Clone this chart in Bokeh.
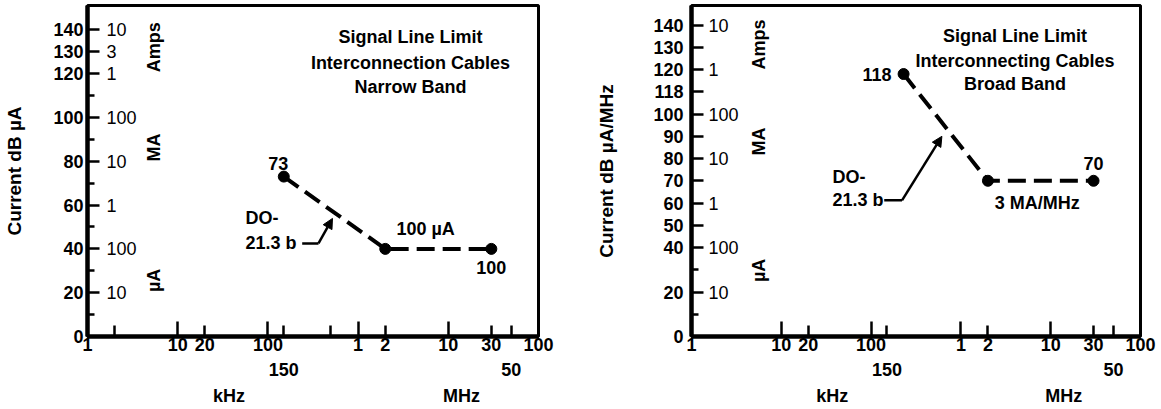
import math
from bokeh.plotting import figure
from bokeh.layouts import row
from bokeh.models import Range1d, FixedTicker, LogAxis, Label, Arrow, NormalHead
from bokeh.core.properties import value
from bokeh.embed import file_html
from bokeh.resources import INLINE

FONT = "Liberation Sans"

# ---------------- data ----------------
nb_freq_hz = [150e3, 2e6, 30e6]
nb_level_db = [73, 40, 40]
bb_freq_hz = [230e3, 2e6, 30e6]
bb_level_db = [118, 70, 70]

x_label_ticks = [1e3, 1e4, 2e4, 1e5, 1e6, 2e6, 1e7, 3e7, 1e8]
x_label_text = ["1", "10", "20", "100", "1", "2", "10", "30", "100"]
x_label2_ticks = [1.5e5, 5e7]
x_label2_text = ["150", "50"]
x_unit_ticks = [3.7e4, 1.4e7]
x_unit_text = ["kHz", "MHz"]
x_tall_ticks = [1e4, 1e5, 1e6, 1e7]
nb_x_short_ticks = [2e3, 2e4, 1.5e5, 5e5, 2e6, 3e7, 5e7]
bb_x_short_ticks = [2e4, 1.5e5, 2e6, 3e7, 5e7]

nb_y_major = [0, 20, 40, 60, 80, 100, 120, 130, 140]
nb_y_minor = [10, 30, 50, 70, 90, 110]
nb_amp_levels = [140, 130, 120, 100, 80, 60, 40, 20]
nb_amp_text = ["10", "3", "1", "100", "10", "1", "100", "10"]

bb_y_major = [0, 20, 40, 50, 60, 70, 80, 90, 100, 110, 120, 130, 140]
bb_y_overrides = {110: "118"}
bb_y_minor = [10, 30]
bb_amp_levels = [140, 120, 100, 80, 60, 40, 20]
bb_amp_text = ["10", "1", "100", "10", "1", "100", "10"]

unit_text = ["Amps", "MA", "µA"]
nb_unit_levels = [132, 86.3, 25.6]
bb_unit_levels = [131.3, 87.7, 29.7]

nb_title = ["Signal Line Limit", "Interconnection Cables", "Narrow Band"]
bb_title = ["Signal Line Limit", "Interconnecting Cables", "Broad Band"]


def txt(x, y, text, align="center", size="18px", style="bold", x_offset=0, y_offset=0, angle=0):
    return Label(x=x, y=y, text=text, text_align=align, text_baseline="middle",
                 text_font=FONT, text_font_size=size, text_font_style=style,
                 text_color="black", x_offset=x_offset, y_offset=y_offset, angle=angle)


def panel(width, b_left, b_right, y_top, freq, level, short_ticks, y_major, y_minor,
          y_over, amp_levels, amp_text, amp_off, unit_levels, unit_off, y_title,
          lab_standoff, title_standoff):
    p = figure(width=width, height=409, x_axis_type="log",
               x_range=Range1d(1e3, 1e8), y_range=Range1d(0, y_top),
               output_backend="svg", toolbar_location=None,
               min_border_left=b_left, min_border_right=b_right,
               min_border_top=5, min_border_bottom=73)
    p.grid.visible = False
    p.outline_line_color = "black"
    p.outline_line_width = 3
    p.background_fill_color = "white"
    p.border_fill_color = "white"

    xa = p.xaxis[0]
    xa.ticker = FixedTicker(ticks=x_tall_ticks, minor_ticks=short_ticks)
    xa.axis_line_width = 4.5
    xa.axis_line_color = "black"
    xa.major_tick_in = 15
    xa.major_tick_out = 0
    xa.minor_tick_in = 11
    xa.minor_tick_out = 0
    xa.major_tick_line_width = 2.5
    xa.minor_tick_line_width = 2.5
    xa.major_tick_line_color = "black"
    xa.minor_tick_line_color = "black"
    xa.major_label_text_font_size = "1px"
    xa.major_label_text_color = None
    xa.major_label_standoff = 0

    for ticks, texts, standoff in [(x_label_ticks, x_label_text, 1),
                                   (x_label2_ticks, x_label2_text, 9),
                                   (x_unit_ticks, x_unit_text, 7)]:
        ax = LogAxis(ticker=FixedTicker(ticks=ticks),
                     major_label_overrides=dict(zip(ticks, texts)),
                     axis_line_color=None, major_tick_line_color=None,
                     minor_tick_line_color=None, major_tick_out=0, major_tick_in=0,
                     minor_tick_out=0, minor_tick_in=0,
                     major_label_standoff=standoff,
                     major_label_text_font=FONT, major_label_text_font_size="18px",
                     major_label_text_font_style="bold", major_label_text_color="black")
        p.add_layout(ax, "below")

    ya = p.yaxis[0]
    ya.ticker = FixedTicker(ticks=y_major, minor_ticks=y_minor)
    if y_over:
        ya.major_label_overrides = y_over
    ya.axis_line_width = 4.5
    ya.axis_line_color = "black"
    ya.major_tick_in = 12
    ya.major_tick_out = 0
    ya.minor_tick_in = 7
    ya.minor_tick_out = 0
    ya.major_tick_line_width = 2.5
    ya.minor_tick_line_width = 2.5
    ya.major_tick_line_color = "black"
    ya.minor_tick_line_color = "black"
    ya.major_label_standoff = lab_standoff
    ya.major_label_text_font = FONT
    ya.major_label_text_font_size = "18px"
    ya.major_label_text_font_style = "bold"
    ya.major_label_text_color = "black"
    ya.axis_label = y_title
    ya.axis_label_standoff = title_standoff
    ya.axis_label_text_font = FONT
    ya.axis_label_text_font_size = "19px"
    ya.axis_label_text_font_style = "bold"
    ya.axis_label_text_color = "black"

    # current-scale labels inside the frame
    p.text(x=[1e3] * len(amp_levels), y=amp_levels, text=amp_text, x_offset=amp_off,
           text_align="left", text_baseline="middle", text_font=value(FONT),
           text_font_size="18px", text_font_style="normal", text_color="black")
    for lvl, t in zip(unit_levels, unit_text):
        p.add_layout(txt(1e3, lvl, t, x_offset=unit_off, angle=math.pi / 2))

    p.line(freq, level, line_width=4, line_dash="18 8", color="black")
    p.scatter(freq, level, size=11, color="black")
    return p


p1 = panel(593, 87, 55, 151.1, nb_freq_hz, nb_level_db, nb_x_short_ticks, nb_y_major,
           nb_y_minor, None, nb_amp_levels, nb_amp_text, 19, nb_unit_levels, 66,
           "Current dB µA", 4, 25)
p2 = panel(568, 95, 21, 148.8, bb_freq_hz, bb_level_db, bb_x_short_ticks, bb_y_major,
           bb_y_minor, bb_y_overrides, bb_amp_levels, bb_amp_text, 17, bb_unit_levels, 67,
           "Current dB µA/MHz", 8, 33)

# titles
for yv, t in zip([136.5, 125, 114], nb_title):
    p1.add_layout(txt(3.8e6, yv, t))
for yv, t in zip([135.3, 123.7, 113.3], bb_title):
    p2.add_layout(txt(4.0e6, yv, t))

# narrow band annotations
p1.add_layout(txt(1.3e5, 79, "73"))
p1.add_layout(txt(5.6e6, 49.3, "100 µA"))
p1.add_layout(txt(3e7, 31.5, "100"))
p1.add_layout(txt(5.65e4, 53.9, "DO-", align="left"))
p1.add_layout(txt(5.65e4, 42.5, "21.3 b", align="left"))
p1.add_layout(Arrow(end=None, x_start=2.4e5, y_start=42.5, x_end=3.64e5, y_end=42.5,
                    line_width=2.5, line_color="black"))
p1.add_layout(Arrow(end=NormalHead(size=10, fill_color="black", line_color="black"),
                    x_start=3.64e5, y_start=42.5, x_end=5.2e5, y_end=53.9,
                    line_width=2.5, line_color="black"))

# broad band annotations
p2.add_layout(txt(bb_freq_hz[0], bb_level_db[0], "118", align="right", x_offset=-12))
p2.add_layout(txt(3e7, 77.8, "70"))
p2.add_layout(txt(7.1e6, 59.8, "3 MA/MHz"))
p2.add_layout(txt(3.72e4, 71.5, "DO-", align="left"))
p2.add_layout(txt(3.72e4, 61.2, "21.3 b", align="left"))
p2.add_layout(Arrow(end=None, x_start=1.4e5, y_start=61.2, x_end=2.21e5, y_end=61.2,
                    line_width=2.5, line_color="black"))
p2.add_layout(Arrow(end=NormalHead(size=10, fill_color="black", line_color="black"),
                    x_start=2.21e5, y_start=61.2, x_end=6.14e5, y_end=90,
                    line_width=2.5, line_color="black"))

layout = row(p1, p2)
open("out.html", "w").write(file_html(layout, INLINE))
